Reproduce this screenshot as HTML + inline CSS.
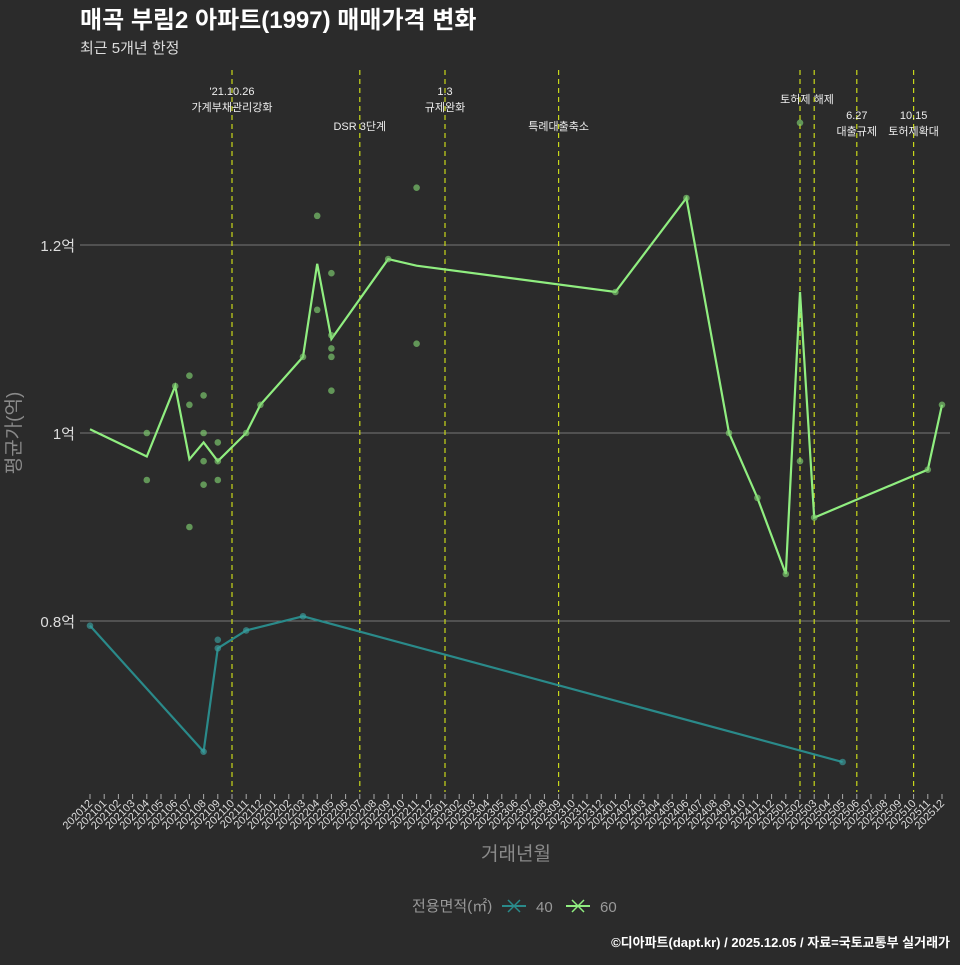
<!DOCTYPE html>
<html><head><meta charset="utf-8">
<style>
html,body{margin:0;padding:0;background:#2b2b2b;}
body{width:960px;height:960px;overflow:hidden;font-family:"Liberation Sans","Noto Sans CJK KR",sans-serif;}
svg text{font-family:"Liberation Sans","Noto Sans CJK KR",sans-serif;}
</style></head>
<body>
<svg id="chart" width="960" height="960" xmlns="http://www.w3.org/2000/svg">
<rect width="960" height="960" fill="#2b2b2b"/>
<text x="80" y="28" fill="#ffffff" font-size="24" font-weight="bold">매곡 부림2 아파트(1997) 매매가격 변화</text>
<text x="80" y="53" fill="#dddddd" font-size="15">최근 5개년 한정</text>
<g id="grid"></g><g id="vlines"></g><g id="series"></g><g id="xaxis"></g>
<text x="20" y="433" fill="#8a8a8a" font-size="19" transform="rotate(-90 20 433)" text-anchor="middle">평균가(억)</text>
<text x="516" y="860" fill="#8a8a8a" font-size="19" text-anchor="middle">거래년월</text>
<g>
<text x="412" y="911" fill="#999" font-size="15">전용면적(㎡)</text>
<g><line x1="502" y1="906" x2="526" y2="906" stroke="#2a8a8a" stroke-width="2"/><path d="M508 900L520 912M520 900L508 912" stroke="#2a8a8a" stroke-width="1.5"/><text x="536" y="912" fill="#999" font-size="15">40</text></g>
<g><line x1="566" y1="906" x2="590" y2="906" stroke="#90ee80" stroke-width="2"/><path d="M572 900L584 912M584 900L572 912" stroke="#90ee80" stroke-width="1.5"/><text x="600" y="912" fill="#999" font-size="15">60</text></g>
</g>
<text x="950" y="947" fill="#ffffff" font-size="13" font-weight="bold" text-anchor="end">©디아파트(dapt.kr) / 2025.12.05 / 자료=국토교통부 실거래가</text>
</svg>
<script>
const months=[];for(let y=2020,m=12;y<2026;){months.push(y+String(m).padStart(2,'0'));m++;if(m>12){m=1;y++;}if(y===2026)break;}
const yTicks=[0.8,1.0,1.2];
const yTickLabels=['0.8억','1억','1.2억'];
const line60Months=['202012','202104','202106','202107','202108','202109','202111','202112','202203','202204','202205','202209','202211','202401','202406','202409','202411','202501','202502','202503','202511','202512'];
const line60Values=[1.004,0.975,1.05,0.972,0.99,0.97,1.0,1.03,1.081,1.18,1.1,1.185,1.178,1.15,1.25,1.0,0.931,0.85,1.15,0.91,0.961,1.03];
const pts60Months=['202104','202104','202106','202107','202107','202107','202108','202108','202108','202108','202109','202109','202109','202111','202112','202203','202204','202204','202205','202205','202205','202205','202205','202209','202211','202211','202401','202406','202409','202411','202501','202502','202502','202503','202511','202512'];
const pts60Values=[1.0,0.95,1.05,1.061,1.03,0.9,1.04,1.0,0.97,0.945,0.99,0.95,0.97,1.0,1.03,1.081,1.231,1.131,1.17,1.104,1.09,1.081,1.045,1.185,1.261,1.095,1.15,1.25,1.0,0.931,0.85,1.33,0.97,0.91,0.961,1.03];
const line40Months=['202012','202108','202109','202111','202203','202505'];
const line40Values=[0.795,0.661,0.771,0.79,0.805,0.65];
const pts40Months=['202012','202108','202109','202109','202111','202203','202505'];
const pts40Values=[0.795,0.661,0.78,0.771,0.79,0.805,0.65];
const eventMonths=['202110','202207','202301','202309','202502','202503','202506','202510'];
const eventLine1=["'21.10.26",'','1.3','','','','6.27','10.15'];
const eventLine2=['가계부채관리강화','DSR 3단계','규제완화','특례대출축소','토허제 해제','','대출규제','토허제확대'];
const NS='http://www.w3.org/2000/svg';
const X0=90,X1=942,Y1V=433,PXV=940;
const xs=m=>X0+months.indexOf(m)*(X1-X0)/(months.length-1);
const ys=v=>Y1V-(v-1)*PXV;
function mk(tag,attrs,parent){const e=document.createElementNS(NS,tag);for(const k in attrs)e.setAttribute(k,attrs[k]);parent.appendChild(e);return e;}
const grid=document.getElementById('grid'),vl=document.getElementById('vlines'),se=document.getElementById('series'),xa=document.getElementById('xaxis');
yTicks.forEach((v,i)=>{
 const l=mk('line',{x1:80,x2:950,y1:ys(v),y2:ys(v),stroke:'#777','stroke-width':1},grid);
 
 
 const t=mk('text',{x:75,y:ys(v)+6,fill:'#dddddd','font-size':15,'text-anchor':'end'},grid);
 t.textContent=yTickLabels[i];
 
 
});
eventMonths.forEach((m,i)=>{
 const x=xs(m);
 const l=mk('line',{x1:x,x2:x,y1:70,y2:792,stroke:'#c8d81a','stroke-width':1.2,'stroke-dasharray':'5,4'},vl);
 
 
 let y1=95,y2=111;
 if(i===1||i===3){y2=130;}
 if(i===4){y2=103;}
 if(i===6||i===7){y1=119;y2=135;}
 if(eventLine1[i]){const t=mk('text',{x:x,y:y1,fill:'#eee','font-size':11,'text-anchor':'middle'},vl);t.textContent=eventLine1[i];}
 if(eventLine2[i]){const t=mk('text',{x:x+(i===4?7:0),y:y2,fill:'#eee','font-size':11,'text-anchor':'middle'},vl);t.textContent=eventLine2[i];}
});
function drawLine(ms,vs,color,name){
 const p=mk('polyline',{points:ms.map((m,i)=>xs(m)+','+ys(vs[i])).join(' '),fill:'none',stroke:color,'stroke-width':2.2},se);
 
 
}
function drawPts(ms,vs,color,name){
 ms.forEach((m,i)=>{const c=mk('circle',{cx:xs(m),cy:ys(vs[i]),r:3.3,fill:color,'fill-opacity':0.65},se);
 
 });
}
drawLine(line40Months,line40Values,'#2a8a8a','line-40');
drawLine(line60Months,line60Values,'#90ee80','line-60');
drawPts(pts40Months,pts40Values,'#3aa0a0','point-40');
drawPts(pts60Months,pts60Values,'#7fd070','point-60');
months.forEach(m=>{
 const x=xs(m);
 const t0=mk('line',{x1:x,x2:x,y1:794,y2:799,stroke:'#aaa','stroke-width':1},xa);
 
 
 const t=mk('text',{x:x+3,y:804,fill:'#dddddd','font-size':11,'text-anchor':'end',transform:`rotate(-45 ${x+3} 804)`},xa);
 t.textContent=m;
 
 
});
</script>
</body></html>
